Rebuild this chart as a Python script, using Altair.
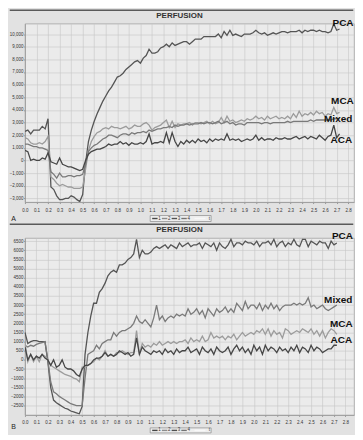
import altair as alt
import pandas as pd

# time axis (s), sampled every 0.025 s
T = [round(i * 0.025, 3) for i in range(110)]
XTICKS = [round(i * 0.1, 1) for i in range(29)]

# ---------------- Panel A ----------------
A_PCA = [2300, 2400, 2100, 2400, 2400, 2400, 2700, 2500, 3300, -2100,
         -2300, -2800, -3100, -3100, -3000, -3000, -2800, -2900, -3100, -3250,
         -2700, -200, 1500, 2400, 3100, 3700, 4200, 4700, 5100, 5500,
         5800, 6200, 6600, 6700, 6900, 7200, 7400, 7600, 7800, 7900,
         7700, 8100, 8300, 8800, 8500, 8500, 8600, 8900, 9000, 9200,
         9000, 9300, 9100, 9200, 9300, 9400, 9400, 9200, 9400, 9600,
         9600, 9600, 9800, 9800, 9800, 9800, 9800, 10000, 9700, 10200,
         9900, 10300, 9900, 10000, 9900, 9800, 10000, 10000, 10000, 10100,
         10300, 10100, 10000, 10100, 9900, 10000, 10100, 10000, 10100, 10200,
         10200, 10100, 10200, 10200, 10200, 10300, 10100, 10300, 10200, 10300,
         10300, 10200, 10300, 10200, 10200, 10100, 10200, 10800, 10300, 10400]
A_MCA = [1800, 1700, 1400, 1300, 1300, 1400, 1300, 1500, 1900, -1300,
         -1500, -1800, -2000, -1900, -2000, -2100, -2100, -2200, -2200, -2200,
         -2100, -700, 800, 1500, 1900, 2200, 2300, 2500, 2600, 2500,
         2700, 2600, 2600, 2500, 2600, 2700, 2500, 2600, 2800, 2700,
         2700, 2900, 3000, 2800, 2400, 2600, 2700, 2800, 3000, 3200,
         2600, 3100, 2600, 2900, 2800, 2900, 2900, 3000, 2800, 3000,
         3000, 2900, 3000, 3100, 2900, 3100, 2900, 3000, 3400, 3000,
         3500, 3100, 3200, 3000, 3100, 3200, 3100, 3300, 3200, 3300,
         3500, 3300, 3400, 3200, 3500, 3300, 3400, 3500, 3300, 3400,
         3300, 3500, 3300, 3700, 3400, 3900, 3500, 3700, 3600, 3800,
         3600, 3900, 3700, 3800, 3500, 3700, 3600, 4200, 3700, 3800]
A_MIX = [1300, 1300, 1200, 1100, 1100, 1000, 1000, 900, 800, -900,
         -1100, -1400, -1000, -1300, -1300, -1200, -1200, -1300, -1200, -1200,
         -1100, -300, 700, 1000, 1200, 1300, 1500, 1700, 1800, 2000,
         2000, 1900, 1800, 2000, 2100, 2100, 2000, 2200, 2100, 2200,
         2200, 2300, 2200, 2400, 2300, 2400, 2500, 2500, 2600, 2600,
         2700, 2600, 2800, 2700, 2800, 2800, 2900, 2800, 2900, 2900,
         2900, 3000, 2900, 3000, 3000, 2900, 3000, 3100, 2900, 3000,
         3100, 2900, 3000, 2800, 2900, 2900, 2800, 3000, 3000, 3000,
         3000, 3000, 2900, 3000, 3000, 2900, 3000, 3000, 3000, 3000,
         3000, 3100, 3000, 3100, 3100, 3100, 3100, 3100, 3100, 3200,
         3100, 3200, 3200, 3200, 3200, 3200, 3200, 3300, 3300, 3300]
A_ACA = [800, 700, 0, 100, 0, 0, 200, 100, 600, -100,
         -200, -300, 200, -300, -400, -500, -500, -600, -700, -800,
         -700, 0, 500, 700, 800, 900, 900, 1000, 1100, 1300,
         1200, 1300, 1300, 1500, 1300, 1400, 1200, 1400, 1300, 1300,
         1400, 1300, 1500, 2100, 1300, 1400, 1400, 1500, 1400, 2200,
         1400, 2200, 1500, 1100, 1500, 1300, 1600, 1400, 1600, 1400,
         1700, 1500, 1600, 1400, 1700, 1500, 1700, 1600, 1700, 1600,
         2100, 1600, 1700, 1600, 1700, 1500, 1600, 1700, 1600, 1700,
         2000, 1600, 1800, 1600, 1700, 1700, 1600, 1800, 1700, 1700,
         1800, 1700, 1700, 1800, 1900, 1700, 1800, 1900, 1700, 1900,
         1800, 1700, 2000, 1800, 1600, 1900, 2000, 2800, 1800, 2100]

# ---------------- Panel B ----------------
B_PCA = [1500, 900, 1000, 1050, 1050, 1000, 1000, 1000, -100, -1500,
         -2200, -2350, -2450, -2550, -2650, -2700, -2800, -2850, -2900, -2950,
         -2550, 300, 1500, 2400, 3100, 3100, 3700, 3900, 4200, 4600,
         4800, 4900, 4800, 5200, 5200, 5300, 5500, 5600, 5800, 6600,
         5600, 6000, 5800, 5800, 5900, 6100, 6200, 6100, 6200, 6300,
         6100, 6300, 6200, 6100, 6400, 6200, 6300, 6400, 6200, 6300,
         6300, 6400, 6100, 6400, 6300, 6200, 6400, 6000, 6400, 6200,
         6100, 6300, 6600, 6200, 6400, 6400, 6300, 6500, 6400, 6400,
         6300, 6500, 6200, 6400, 6400, 6500, 6300, 6600, 6200, 6400,
         6500, 6200, 6400, 6300, 6600, 6300, 6200, 6600, 6600, 6200,
         6500, 6400, 6300, 6500, 6400, 6400, 6100, 6500, 6300, 6400]
B_MIX = [800, 700, 800, 750, 850, 900, 950, 1000, 0, -1200,
         -1750, -1850, -2000, -2100, -2200, -2300, -2400, -2450, -2500, -2500,
         -2500, -1000, 300, 400, 500, 800, 600, 900, 1000, 1100,
         1100, 1500, 1300, 1500, 1600, 1600, 1700, 1800, 2000, 2400,
         2100, 2000, 2200, 2000, 1800, 2300, 3000, 2200, 2400, 2100,
         2300, 2400, 2300, 2500, 2400, 2500, 2400, 2800, 2500, 2600,
         2800, 2500, 2700, 2300, 2800, 2600, 2400, 2800, 2600, 2700,
         2900, 2600, 2800, 2600, 3100, 2900, 2700, 3200, 2800, 3000,
         3000, 2800, 3100, 2700, 3000, 2800, 3100, 2800, 3000, 2700,
         2900, 3000, 3000, 3000, 3100, 3000, 3100, 3000, 3100, 3400,
         2900, 3000, 2800, 2900, 3000, 2800, 2700, 2800, 2900, 3000]
B_MCA = [1000, -100, 300, -100, 200, -100, 300, 200, 0, -300,
         -400, -500, -600, -700, -800, -850, -900, -1000, -1050, -1200,
         -400, -400, -300, -200, -100, 100, 0, 200, 500, 200,
         300, 200, 400, 400, 500, 400, 300, 400, 400, 1600,
         300, 900, 700, 800, 700, 900, 800, 1000, 800, 900,
         1000, 900, 1000, 900, 1000, 1000, 1100, 900, 1200, 1000,
         1100, 1000, 1300, 1000, 1100, 1500, 1200, 1300, 1200, 1300,
         1100, 1300, 1200, 1400, 1100, 1300, 1500, 1300, 1400, 1500,
         1400, 1600, 1500, 1700, 1400, 1700, 1300, 1600, 1400, 1500,
         1200, 1700, 1600, 1400, 1500, 1600, 1500, 1700, 1600, 1500,
         1700, 1400, 1600, 1300, 1600, 1200, 1500, 1700, 1600, 1400]
B_ACA = [700, 0, 300, 0, 200, 100, 300, 100, 0, -300,
         0, -400, -300, 0, -400, -500, -500, -600, -800, -900,
         -500, -300, -300, -200, 0, 100, 100, 200, 400, 200,
         300, 200, 300, 500, 400, 300, 400, 200, 300, 1200,
         300, 700, 500, 400, 300, 500, 400, 500, 300, 600,
         400, 500, 300, 600, 400, 500, 500, 700, 400, 500,
         600, 300, 700, 500, 400, 600, 300, 700, 500, 400,
         500, 700, 300, 600, 800, 500, 700, 400, 600, 300,
         800, 500, 700, 300, 800, 500, 700, 600, 400, 700,
         500, 600, 400, 700, 500, 800, 400, 700, 600, 400,
         800, 500, 700, 600, 400, 500, 600, 600, 800, 800]

# end-of-line labels: (label, t, value)
A_LABELS = [("PCA", 2.755, 10900), ("MCA", 2.75, 4680), ("Mixed", 2.713, 3250), ("ACA", 2.74, 1650)]
B_LABELS = [("PCA", 2.774, 6760), ("Mixed", 2.737, 3275), ("MCA", 2.765, 1985), ("ACA", 2.765, 1100)]

LEGEND_IDS = ["1", "2", "3", "4"]
LEGEND_COLORS = ["#454545", "#8c8c8c", "#505050", "#737373"]

W = 330
FONT = "Liberation Sans"


def panel(series, colors, ydom, yvals, yexpr, xdom, labels, letter, h,
          rule_y, legend_y, letter_y, title_y):
    rows = []
    for name, vals in series.items():
        for t, v in zip(T, vals):
            rows.append({"t": t, "v": v, "s": name})
    df = pd.DataFrame(rows)
    xs = alt.Scale(domain=xdom, nice=False, zero=False)
    ys = alt.Scale(domain=ydom, nice=False, zero=False)
    ax_x = alt.Axis(values=XTICKS, title=None, labelOverlap=False, labelFlush=False,
                    labelExpr="format(datum.value, '.1f')")
    ax_y = alt.Axis(values=yvals, title=None, labelOverlap=False, labelFlush=False,
                    labelExpr=yexpr)

    lines = alt.Chart(df).mark_line(strokeWidth=1.3, clip=True).encode(
        x=alt.X("t:Q", scale=xs, axis=ax_x),
        y=alt.Y("v:Q", scale=ys, axis=ax_y),
        color=alt.Color("s:N", scale=alt.Scale(domain=list(series.keys()), range=colors), legend=None),
    )

    ann_df = pd.DataFrame(labels, columns=["lab", "t", "v"])
    ann = alt.Chart(ann_df).mark_text(font=FONT, fontSize=10, fontWeight="bold", color="#111",
                                      align="center", baseline="middle").encode(
        x=alt.X("t:Q", scale=xs, axis=ax_x),
        y=alt.Y("v:Q", scale=ys, axis=ax_y),
        text="lab:N",
    )

    one = pd.DataFrame({"txt": ["PERFUSION"], "let": [letter]})
    top_rule = alt.Chart(one).mark_rule(color="#5a5a5a", strokeWidth=1.5).encode(
        x=alt.value(-15.25), x2=alt.value(W - 0.75), y=alt.value(rule_y))
    title = alt.Chart(one).mark_text(font=FONT, fontSize=8, fontWeight="bold", color="#333",
                                     align="center", baseline="middle").encode(
        x=alt.value(155), y=alt.value(title_y), text="txt:N")
    let = alt.Chart(one).mark_text(font=FONT, fontSize=7, color="#222",
                                   align="center", baseline="middle").encode(
        x=alt.value(-11.5), y=alt.value(letter_y), text="let:N")

    # legend strip (series ids 1-4 and t)
    box = alt.Chart(one).mark_rect(fill="#eeeeee", stroke="#8a8a8a", strokeWidth=0.7).encode(
        x=alt.value(125.6), x2=alt.value(186.7), y=alt.value(legend_y[0]), y2=alt.value(legend_y[1]))
    ymid = (legend_y[0] + legend_y[1]) / 2
    leg_df = pd.DataFrame({
        "id": LEGEND_IDS + ["t"],
        "x1": [127.6, 137.3, 147.1, 156.8, 170.0],
        "x2": [133.0, 142.8, 152.6, 162.3, 181.0],
        "xl": [135.0, 144.7, 154.5, 164.3, 185.0],
        "c": LEGEND_COLORS + ["#f8f8f8"],
        "y": [ymid] * 5,
    })
    segs = alt.Chart(leg_df).mark_rule(strokeWidth=1.4).encode(
        x=alt.X("x1:Q", scale=None), x2="x2:Q", y=alt.Y("y:Q", scale=None),
        color=alt.Color("c:N", scale=None))
    labs = alt.Chart(leg_df).mark_text(font=FONT, fontSize=4.5, color="#333",
                                       align="center", baseline="middle").encode(
        x=alt.X("xl:Q", scale=None), y=alt.Y("y:Q", scale=None), text="id:N")

    return alt.layer(lines, ann, top_rule, title, let, box, segs, labs).properties(width=W, height=h)


pA = panel({"PCA": A_PCA, "MCA": A_MCA, "Mixed": A_MIX, "ACA": A_ACA},
           ["#555555", "#9c9c9c", "#7a7a7a", "#464646"],
           [-3290, 10830], list(range(-3000, 10001, 1000)), "format(datum.value, ',')",
           [0, 2.85], A_LABELS, "A", 179,
           rule_y=-13.25, legend_y=(192.5, 198.5), letter_y=195.5, title_y=-8)
pB = panel({"PCA": B_PCA, "Mixed": B_MIX, "MCA": B_MCA, "ACA": B_ACA},
           ["#4f4f4f", "#929292", "#484848", "#707070"],
           [-3015, 6675], list(range(-2500, 6501, 500)), "format(datum.value, 'd')",
           [0, 2.875], B_LABELS, "B", 177.5,
           rule_y=-13.75, legend_y=(190.5, 195.5), letter_y=190.0, title_y=-8)

chart = alt.vconcat(pA, pB, spacing=0).properties(
    padding=0, background="#e2e2e2"
).configure_view(
    stroke="#a3a3a3", strokeWidth=0.8, fill="#ebebeb"
).configure_axis(
    labelFont=FONT, labelFontSize=4.5, labelColor="#333", tickColor="#999", tickSize=1.5,
    domainColor="#999", domainWidth=0.8, gridColor="#c6c6c6", gridWidth=0.6, labelPadding=0.5
).configure_axisX(labelPadding=3.5)

chart.save("out.html", embed_options={"renderer": "svg", "actions": False})
